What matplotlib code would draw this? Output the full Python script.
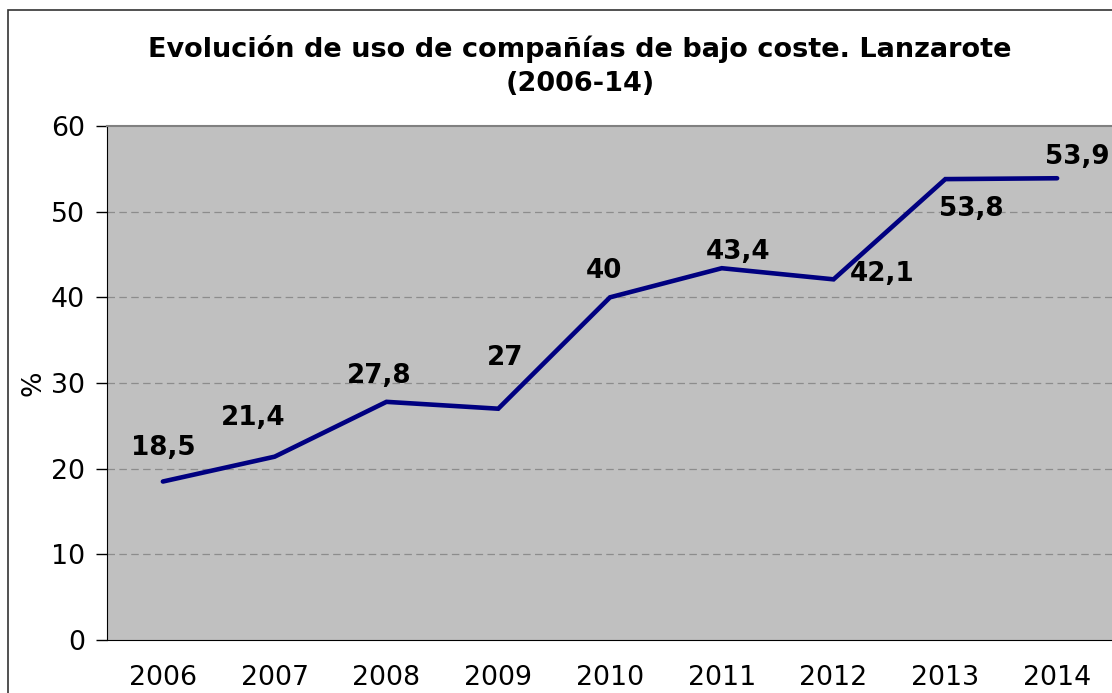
import matplotlib
matplotlib.use("Agg")
import matplotlib.pyplot as plt
from matplotlib.patches import Rectangle

years = ["2006", "2007", "2008", "2009", "2010", "2011", "2012", "2013", "2014"]
values = [18.5, 21.4, 27.8, 27.0, 40.0, 43.4, 42.1, 53.8, 53.9]
value_labels = ["18,5", "21,4", "27,8", "27", "40", "43,4", "42,1", "53,8", "53,9"]
yticks = [0, 10, 20, 30, 40, 50, 60]
title = "Evolución de uso de compañías de bajo coste. Lanzarote\n(2006-14)"

# label offsets in pixels (converted to points below)
label_offsets_px = [(0, 34), (-21, 39), (-7, 26), (7, 51), (-6, 26),
                    (16, 16), (49, 5), (26, -30), (20, 21)]

W, H = 1112, 693
fig = plt.figure(figsize=(W / 100, H / 100), dpi=100)
plt.rcParams['font.family'] = ['DejaVu Sans']

# outer chart frame (cropped on right and bottom)
fig.patches.append(Rectangle((8 / W, -0.05), 1.1, (H - 10) / H + 0.05,
                             transform=fig.transFigure, fill=False,
                             edgecolor="#333333", linewidth=1.2, clip_on=False))

ax = fig.add_axes([107 / W, (H - 640) / H, (1113 - 107) / W, (640 - 126) / H])
ax.set_facecolor("#C0C0C0")
x = list(range(len(years)))
ax.plot(x, values, color="#000080", linewidth=3.3, solid_capstyle="round",
        solid_joinstyle="miter", zorder=3)

for xi, v, lab, (dx, dy) in zip(x, values, value_labels, label_offsets_px):
    ax.annotate(lab, (xi, v), xytext=(dx * 0.72, dy * 0.72), textcoords="offset points",
                ha="center", va="center", fontsize=18.8, fontweight="bold",
                color="black", zorder=4, annotation_clip=False)

ax.set_xlim(-0.5, len(years) - 0.5)
ax.set_ylim(0, 60)
ax.set_yticks(yticks)
ax.set_yticklabels([str(t) for t in yticks], fontsize=19.3)
ax.set_xticks(x)
ax.set_xticklabels(years, fontsize=19.3)
ax.tick_params(axis="x", length=0, pad=18)
ax.tick_params(axis="y", length=8, width=1, direction="out", pad=8)
for g in yticks[1:-1]:
    ax.axhline(g, color="#8c8c8c", linestyle=(0, (6, 3.5)), linewidth=0.9, zorder=1)
ax.spines["left"].set_color("black")
ax.spines["bottom"].set_color("black")
ax.spines["top"].set_color("#808080")
ax.spines["top"].set_linewidth(1.5)
ax.spines["right"].set_visible(False)
ax.set_ylabel("%", fontsize=19.3, labelpad=3)

fig.text(580 / W, 1 - 66 / H, title, ha="center", va="center", fontsize=19.5,
         fontweight="bold", linespacing=1.4)

fig.savefig("out.png", dpi=100)
